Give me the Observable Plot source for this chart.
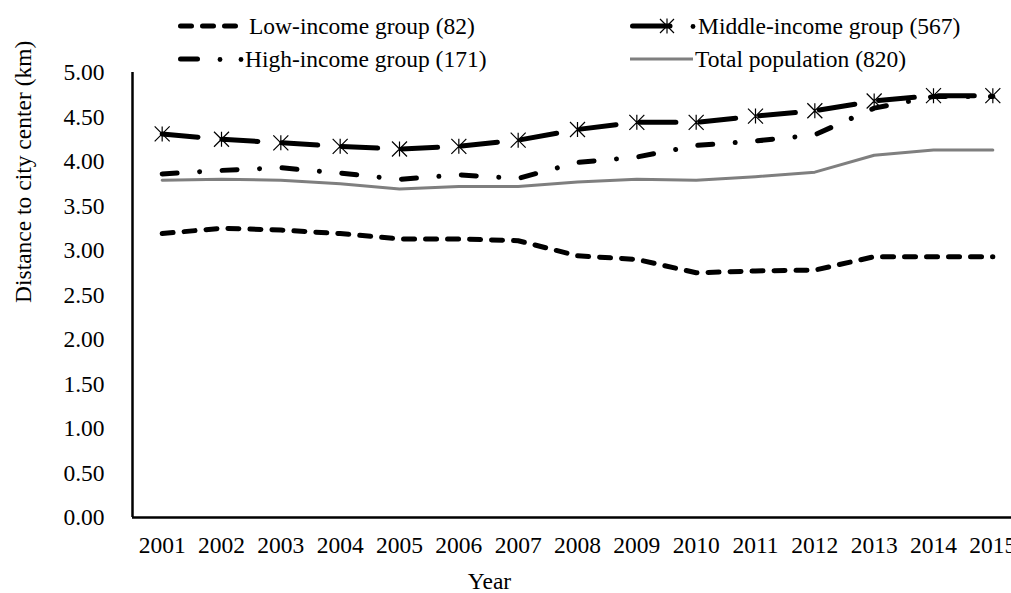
<!DOCTYPE html>
<html>
<head>
<meta charset="utf-8">
<script src="https://cdn.jsdelivr.net/npm/d3@7"></script>
<script src="https://cdn.jsdelivr.net/npm/@observablehq/plot@0.6"></script>
<style>
  html, body { margin: 0; padding: 0; background: #fff; overflow: hidden; }
  #wrap { position: relative; width: 1011px; height: 593px; overflow: hidden;
          font-family: "Liberation Serif", "Times New Roman", serif; color: #000; }
  #chart { position: absolute; left: 0; top: 0; }
  #chart svg { max-width: none !important; }
  .item { position: absolute; height: 30px; display: flex; align-items: center;
          font-size: 23.5px; white-space: nowrap; }
  .item svg { flex: none; overflow: visible; }
</style>
</head>
<body>
<div id="wrap">
  <div id="chart"></div>
  <div id="legend"></div>
</div>
<script>
// Mean distance to the city centre by income group, 2001–2015
const years = [2001, 2002, 2003, 2004, 2005, 2006, 2007, 2008, 2009, 2010, 2011, 2012, 2013, 2014, 2015];
const lowIncome = [3.19, 3.25, 3.23, 3.19, 3.13, 3.13, 3.11, 2.94, 2.90, 2.75, 2.77, 2.78, 2.93, 2.93, 2.93];
const middleIncome = [4.31, 4.25, 4.21, 4.17, 4.14, 4.17, 4.24, 4.36, 4.44, 4.44, 4.51, 4.57, 4.68, 4.74, 4.74];
const highIncome = [3.86, 3.90, 3.93, 3.87, 3.80, 3.85, 3.81, 3.99, 4.05, 4.18, 4.23, 4.30, 4.60, 4.73, 4.73];
const totalPopulation = [3.79, 3.80, 3.79, 3.75, 3.69, 3.72, 3.72, 3.77, 3.80, 3.79, 3.83, 3.88, 4.07, 4.13, 4.13];

const seriesLabels = ["Low-income group (82)", "Middle-income group (567)", "High-income group (171)", "Total population (820)"];
const yTicks = [0, 0.5, 1, 1.5, 2, 2.5, 3, 3.5, 4, 4.5, 5];
const yTitle = "Distance to city center (km)";
const xTitle = "Year";

const FONT = "Liberation Serif, Times New Roman, serif";
const FONT_SIZE = 23.5;
const GREY = "#7f7f7f";

const toRows = values => years.map((year, i) => ({year, value: values[i]}));
const lowRows = toRows(lowIncome);
const middleRows = toRows(middleIncome);
const highRows = toRows(highIncome);
const totalRows = toRows(totalPopulation);

// Categories sit between tick marks, so the x domain extends half a year each side
const xDomain = [years[0] - 0.5, years[years.length - 1] + 0.5];

// Star marker: an X with a vertical bar through it
const starSymbol = {
  draw(context, size) {
    const r = Math.sqrt(size / Math.PI);
    context.moveTo(-r, -r); context.lineTo(r, r);
    context.moveTo(r, -r); context.lineTo(-r, r);
    context.moveTo(0, -r); context.lineTo(0, r);
  }
};

const chart = Plot.plot({
  width: 1022,
  height: 593,
  marginLeft: 132,
  marginRight: 0,
  marginTop: 72,
  marginBottom: 76,
  style: {fontFamily: FONT, fontSize: FONT_SIZE + "px", background: "#fff", color: "#000"},
  x: {domain: xDomain, axis: null},
  y: {domain: [0, 5], axis: null},
  marks: [
    Plot.axisY({ticks: yTicks, tickFormat: d3.format(".2f"), tickSize: 0, tickPadding: 28,
                label: null, fontSize: FONT_SIZE, fontFamily: FONT}),
    Plot.axisX({ticks: years, tickFormat: d => String(d), tickSize: 0, tickPadding: 19,
                label: null, fontSize: FONT_SIZE, fontFamily: FONT}),
    Plot.text([yTitle], {text: d => d, frameAnchor: "left", rotate: -90, dx: -109, dy: 8,
                         fontSize: FONT_SIZE, fontFamily: FONT, fill: "#000"}),
    Plot.text([xTitle], {text: d => d, frameAnchor: "bottom", dx: -88, dy: 64, lineAnchor: "middle",
                         fontSize: FONT_SIZE, fontFamily: FONT, fill: "#000"}),
    Plot.line(totalRows, {x: "year", y: "value", stroke: GREY, strokeWidth: 3}),
    Plot.line(lowRows, {x: "year", y: "value", stroke: "#000", strokeWidth: 5,
                        strokeDasharray: "11,11", strokeLinecap: "round"}),
    Plot.line(highRows, {x: "year", y: "value", stroke: "#000", strokeWidth: 5,
                         strokeDasharray: "15,22.5,0.01,22.5", strokeLinecap: "round"}),
    Plot.line(middleRows, {x: "year", y: "value", stroke: "#000", strokeWidth: 5,
                           strokeDasharray: "36,24", strokeLinecap: "round"}),
    Plot.dot(middleRows, {x: "year", y: "value", symbol: starSymbol, r: 7.5,
                          stroke: "#000", strokeWidth: 1.2, fill: "none"}),
    Plot.ruleX([xDomain[0]], {stroke: "#000", strokeWidth: 2.5}),
    Plot.ruleY([0], {stroke: "#000", strokeWidth: 2.5})
  ]
});
document.getElementById("chart").append(chart);

// Legend: two columns, two rows, each with a line sample and its label
const legendSamples = [
  // low-income: short dashes
  `<svg width="62" height="14"><line x1="2.5" x2="59.5" y1="7" y2="7" stroke="#000" stroke-width="5"
     stroke-dasharray="11,11" stroke-linecap="round"/></svg>`,
  // middle-income: long dash with star marker and dot
  `<svg width="68" height="18"><line x1="2.5" x2="40" y1="9" y2="9" stroke="#000" stroke-width="5"
     stroke-linecap="round"/><path d="M30,2L44,16M44,2L30,16M37,1.5L37,16.5" stroke="#000" stroke-width="1.2" fill="none"/>
     <circle cx="63" cy="9.5" r="2.4" fill="#000"/></svg>`,
  // high-income: dash followed by dots
  `<svg width="67" height="14"><line x1="2.5" x2="19.5" y1="7" y2="7" stroke="#000" stroke-width="5"
     stroke-linecap="round"/><circle cx="42" cy="7.5" r="2.4" fill="#000"/><circle cx="63" cy="7.5" r="2.4" fill="#000"/></svg>`,
  // total population: solid grey
  `<svg width="65" height="14"><line x1="0" x2="63" y1="7" y2="7" stroke="${GREY}" stroke-width="3"/></svg>`
];
const legendLeft = [178, 630, 178, 630];
const legendTop = [11, 11, 44, 44];
const legendGap = [9, 0, 0, 0];
const legend = document.getElementById("legend");
seriesLabels.forEach((label, i) => {
  const item = document.createElement("div");
  item.className = "item";
  item.style.left = legendLeft[i] + "px";
  item.style.top = legendTop[i] + "px";
  item.innerHTML = legendSamples[i] + `<span style="margin-left:${legendGap[i]}px">${label}</span>`;
  legend.append(item);
});
</script>
</body>
</html>
